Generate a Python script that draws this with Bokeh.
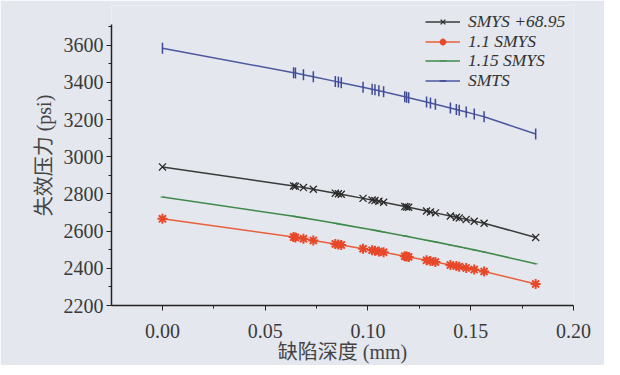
from bokeh.plotting import figure
from bokeh.models import ColumnDataSource, Legend, LegendItem, FixedTicker, Range1d
from bokeh.embed import file_html
from bokeh.resources import INLINE
import math

depth = [0.0, 0.0638, 0.0647, 0.0686, 0.0734, 0.0841, 0.0856, 0.0870, 0.0976, 0.1020,
         0.1034, 0.1053, 0.1076, 0.1179, 0.1188, 0.1198, 0.1285, 0.1304, 0.1328, 0.1401,
         0.1430, 0.1444, 0.1478, 0.1517, 0.1565, 0.1816]
smys_plus = [2945, 2843, 2841, 2834, 2825, 2804, 2801, 2798, 2776, 2767,
             2764, 2760, 2755, 2732, 2730, 2728, 2708, 2703, 2698, 2681,
             2674, 2671, 2663, 2653, 2642, 2566]
smys_110 = [2666, 2568, 2566, 2559, 2550, 2531, 2528, 2525, 2505, 2497,
            2494, 2490, 2486, 2465, 2463, 2461, 2443, 2439, 2434, 2418,
            2412, 2409, 2402, 2393, 2383, 2316]
smys_115 = [2783, 2680, 2678, 2671, 2662, 2642, 2639, 2636, 2615, 2607,
            2604, 2600, 2595, 2574, 2572, 2570, 2551, 2547, 2542, 2525,
            2519, 2516, 2508, 2499, 2488, 2424]
smts = [3583, 3452, 3450, 3441, 3430, 3405, 3402, 3398, 3374, 3363,
        3360, 3355, 3349, 3322, 3320, 3317, 3294, 3289, 3282, 3262,
        3254, 3250, 3240, 3229, 3215, 3122]

labels = ["SMYS +68.95", "1.1 SMYS", "1.15 SMYS", "SMTS"]
x_ticks = [0.0, 0.05, 0.10, 0.15, 0.20]
y_ticks = [2200, 2400, 2600, 2800, 3000, 3200, 3400, 3600]

BG = "#e4e7ee"
SERIF = "'Liberation Serif', 'Times New Roman', serif"
MIXED = "'Liberation Serif', 'Noto Sans CJK SC', serif"

p = figure(width=604, height=365, output_backend="svg", toolbar_location=None,
           x_range=Range1d(-0.0248, 0.2), y_range=Range1d(2200, 3813),
           min_border_left=111, min_border_right=31, min_border_top=5, min_border_bottom=57,
           background_fill_color=BG, border_fill_color=BG, outline_line_color=None)
p.grid.visible = False

src = ColumnDataSource(dict(x=depth, a=smys_plus, b=smys_110, c=smys_115, d=smts))

r1l = p.line("x", "a", source=src, line_color="#3a3a3a", line_width=1.5)
r1m = p.scatter("x", "a", source=src, marker="x", size=10, line_color="#2a2a2a", line_width=1.3)
r2l = p.line("x", "b", source=src, line_color="#e8603c", line_width=1.5)
r2m = p.scatter("x", "b", source=src, marker="asterisk", size=10, line_color="#e8482a", line_width=2)
r3l = p.line("x", "c", source=src, line_color="#3f8a4a", line_width=1.6)
r3m = p.scatter("x", "c", source=src, marker="dash", size=4, line_color="#3f8a4a", line_width=1)
r4l = p.line("x", "d", source=src, line_color="#4d58a0", line_width=1.5)
r4m = p.scatter("x", "d", source=src, marker="dash", angle=math.pi / 2, size=11,
                line_color="#3f4a96", line_width=1.5)

renderers = [[r1l, r1m], [r2l, r2m], [r3l, r3m], [r4l, r4m]]
legend_y = [273, 253, 234, 214]
for lab, rs, vy in zip(labels, renderers, legend_y):
    lg = Legend(items=[LegendItem(label=lab, renderers=rs)], location=(314, vy))
    lg.background_fill_alpha = 0
    lg.border_line_color = None
    lg.label_text_font = SERIF
    lg.label_text_font_size = "17.5px"
    lg.label_text_color = "#333333"
    lg.label_text_font_style = "italic"
    lg.glyph_width = 35
    lg.padding = 0
    lg.margin = 0
    lg.label_height = 17
    lg.glyph_height = 17
    lg.label_standoff = 8
    p.add_layout(lg)

for ax in (p.xaxis[0], p.yaxis[0]):
    ax.axis_line_color = "#222222"
    ax.axis_line_width = 1.5
    ax.major_tick_line_color = "#222222"
    ax.minor_tick_line_color = "#222222"
    ax.major_tick_in = 0
    ax.major_tick_out = 5
    ax.minor_tick_in = 0
    ax.minor_tick_out = 3
    ax.major_label_text_font = SERIF
    ax.major_label_text_font_size = "20px"
    ax.major_label_text_color = "#3a3a3a"
    ax.axis_label_text_font_size = "20px"
    ax.axis_label_text_color = "#444444"
    ax.axis_label_text_font_style = "normal"
    ax.axis_label_text_font = MIXED

p.yaxis.bounds = (2200, 3710)
p.xaxis.ticker = FixedTicker(ticks=x_ticks, minor_ticks=[-0.025, 0.025, 0.075, 0.125, 0.175])
p.yaxis.ticker = FixedTicker(ticks=y_ticks, minor_ticks=[2300, 2500, 2700, 2900, 3100, 3300, 3500, 3700])
p.xaxis.major_label_overrides = {t: f"{t:.2f}" for t in x_ticks}
p.xaxis.axis_label = "缺陷深度 (mm)"
p.yaxis.axis_label = "失效压力 (psi)"
p.xaxis.major_label_standoff = 13
p.yaxis.major_label_standoff = 3
p.xaxis.axis_label_standoff = 0
p.yaxis.axis_label_standoff = 6

open("out.html", "w").write(file_html(p, INLINE))
